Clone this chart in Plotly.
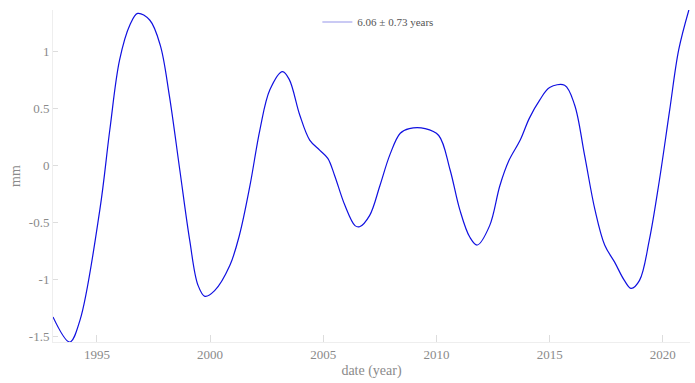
import plotly.graph_objects as go

years = [1993.06, 1993.8, 1994.25, 1995.13, 1995.57, 1996.0, 1996.46, 1996.8, 1997.34, 1997.8,
         1998.2, 1998.66, 1999.1, 1999.46, 1999.77, 2000.2, 2000.87, 2001.3, 2001.76, 2002.2,
         2002.64, 2003.2, 2003.5, 2003.96, 2004.4, 2004.85, 2005.2, 2005.5, 2005.95, 2006.4,
         2006.6, 2007.05, 2007.5, 2007.94, 2008.4, 2008.8, 2009.5, 2010.1, 2010.6, 2011.03,
         2011.47, 2011.8, 2012.35, 2012.8, 2013.2, 2013.7, 2014.1, 2014.56, 2015.0, 2015.66,
         2016.1, 2016.54, 2017.0, 2017.43, 2017.87, 2018.3, 2018.6, 2018.97, 2019.4, 2019.85,
         2020.3, 2020.7, 2021.15]
values = [-1.33, -1.55, -1.36, -0.39, 0.31, 0.92, 1.23, 1.33, 1.27, 1.05,
          0.61, -0.04, -0.66, -1.05, -1.15, -1.10, -0.88, -0.61, -0.18, 0.31,
          0.66, 0.82, 0.75, 0.44, 0.22, 0.13, 0.06, -0.09, -0.35, -0.53,
          -0.54, -0.44, -0.18, 0.09, 0.28, 0.32, 0.32, 0.26, -0.04, -0.39,
          -0.63, -0.70, -0.53, -0.18, 0.04, 0.22, 0.41, 0.57, 0.68, 0.70,
          0.53, 0.09, -0.39, -0.70, -0.85, -1.01, -1.08, -1.01, -0.66, -0.13,
          0.48, 1.01, 1.36]
legend_label = "6.06 ± 0.73 years"
x_ticks = [1995, 2000, 2005, 2010, 2015, 2020]
y_ticks = [-1.5, -1, -0.5, 0, 0.5, 1]
y_ticklabels = ["-1.5", "-1", "-0.5", "0", "0.5", "1"]

SERIF = "Liberation Serif, Times New Roman, serif"

fig = go.Figure()
fig.add_trace(go.Scatter(x=years, y=values, mode="lines",
                         line=dict(color="#1010e0", width=1.2, shape="spline", smoothing=1.0),
                         showlegend=False))
fig.add_trace(go.Scatter(x=[None], y=[None], mode="lines", name=legend_label,
                         line=dict(color="#b8b8f0", width=1.5), showlegend=True))

tickfont = dict(family=SERIF, size=13, color="#8a8a8a")
fig.update_layout(
    width=695, height=383,
    margin=dict(l=53, r=5, t=10, b=41),
    paper_bgcolor="white", plot_bgcolor="white",
    font=dict(family=SERIF, color="#8a8a8a"),
    legend=dict(x=0.51, y=0.964, xanchor="center", yanchor="middle",
                bgcolor="rgba(0,0,0,0)", font=dict(family=SERIF, size=11, color="#555555"),
                itemwidth=30),
    xaxis=dict(range=[1993.06, 2021.2], tickvals=x_ticks, ticks="inside", ticklen=7,
               tickcolor="#dddddd", showgrid=False, zeroline=False, showline=True,
               linecolor="#eeeeee", linewidth=1, tickfont=tickfont,
               title=dict(text="date (year)", font=dict(family=SERIF, size=14, color="#8a8a8a"), standoff=4)),
    yaxis=dict(range=[-1.55, 1.36], tickvals=y_ticks, ticktext=y_ticklabels, ticks="inside", ticklen=5,
               tickcolor="#dddddd", showgrid=False, zeroline=False, showline=True,
               linecolor="#eeeeee", linewidth=1, tickfont=tickfont,
               title=dict(text="mm", font=dict(family=SERIF, size=14, color="#8a8a8a"), standoff=4)),
)
fig.write_html("out.html")
